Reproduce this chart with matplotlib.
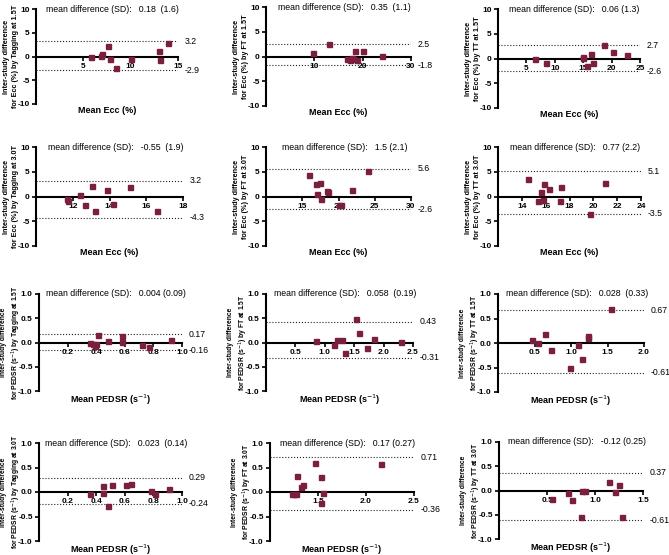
import matplotlib
matplotlib.use('Agg')
import matplotlib.pyplot as plt

plt.rcParams['font.family'] = ['Liberation Sans', 'DejaVu Sans']
plt.rcParams['axes.unicode_minus'] = False

MAROON = '#7a1f3d'

# Ecc (%) -- mean of the two studies vs inter-study difference
ecc_tag15_mean = [5.8, 6.9, 7.0, 7.6, 7.8, 8.5, 10.0, 13.0, 13.1, 13.9]
ecc_tag15_diff = [-0.1, 0.1, 0.6, 2.3, -0.5, -2.4, -0.5, 1.2, -0.8, 2.9]
ecc_ft15_mean = [9.7, 13.1, 16.7, 17.4, 17.8, 18.1, 18.5, 18.8, 20.1, 24.1]
ecc_ft15_diff = [0.7, 2.6, -0.5, -0.7, -0.4, -0.5, 1.1, -0.7, 1.2, 0.1]
ecc_tt15_mean = [6.6, 8.4, 14.9, 15.0, 15.6, 16.3, 16.8, 18.7, 20.2, 22.7]
ecc_tt15_diff = [-0.2, -1.0, 0.4, 0.1, -1.6, 0.9, -0.9, 2.8, 1.3, 0.7]
ecc_tag30_mean = [11.67, 11.76, 12.4, 12.67, 13.07, 13.2, 13.87, 14.2, 15.13, 16.6]
ecc_tag30_diff = [-0.5, -1.0, 0.3, -1.8, 2.1, -3.0, 1.3, -1.5, 2.0, -3.0]
ecc_ft30_mean = [15.9, 16.9, 17.0, 17.45, 17.6, 18.4, 18.5, 20.1, 20.4, 21.8, 24.1]
ecc_ft30_diff = [4.3, 2.5, 0.5, 2.7, -0.5, 1.1, 0.9, -1.7, -1.7, 1.3, 5.1]
ecc_tt30_mean = [14.54, 15.35, 15.63, 15.8, 15.85, 16.3, 17.2, 17.3, 19.7, 20.94]
ecc_tt30_diff = [3.6, -0.9, 0.9, -0.8, 2.5, 1.6, -0.9, 2.0, -3.5, 2.8]

# PEDSR (s^-1)
pedsr_tag15_mean = [0.36, 0.38, 0.39, 0.40, 0.41, 0.48, 0.58, 0.58, 0.72, 0.77, 0.92]
pedsr_tag15_diff = [0.0, -0.03, -0.08, -0.03, 0.15, 0.03, 0.13, 0.02, -0.05, -0.10, 0.05]
pedsr_ft15_mean = [0.85, 1.15, 1.20, 1.30, 1.34, 1.53, 1.59, 1.72, 1.83, 2.29]
pedsr_ft15_diff = [0.03, -0.05, 0.05, 0.05, -0.21, 0.49, 0.19, -0.12, 0.08, 0.01]
pedsr_tt15_mean = [0.46, 0.55, 0.65, 0.73, 0.99, 1.09, 1.15, 1.23, 1.23, 1.55]
pedsr_tt15_diff = [0.07, 0.0, 0.18, -0.14, -0.51, -0.04, -0.33, 0.14, 0.10, 0.70]
pedsr_tag30_mean = [0.36, 0.45, 0.45, 0.48, 0.51, 0.61, 0.64, 0.78, 0.81, 0.91]
pedsr_tag30_diff = [-0.05, 0.12, -0.03, -0.28, 0.14, 0.15, 0.16, 0.02, -0.05, 0.07]
pedsr_ft30_mean = [1.23, 1.25, 1.27, 1.28, 1.32, 1.34, 1.47, 1.53, 1.53, 1.55, 2.16]
pedsr_ft30_diff = [-0.05, -0.05, -0.05, 0.33, 0.10, 0.14, 0.59, 0.30, -0.22, -0.03, 0.57]
pedsr_tt30_mean = [0.55, 0.72, 0.76, 0.85, 0.86, 0.90, 1.15, 1.21, 1.25, 1.28]
pedsr_tt30_diff = [-0.18, -0.06, -0.20, -0.54, 0.0, -0.01, 0.18, -0.04, 0.12, -0.54]

# summary text and limits of agreement
mean_sd = ['0.18  (1.6)', '0.35  (1.1)', '0.06 (1.3)',
           '-0.55  (1.9)', '1.5 (2.1)', '0.77 (2.2)',
           '0.004 (0.09)', '0.058  (0.19)', '0.028  (0.33)',
           '0.023  (0.14)', '0.17 (0.27)', '-0.12 (0.25)']
loa = [(3.2, -2.9), (2.5, -1.8), (2.7, -2.6),
       (3.2, -4.3), (5.6, -2.6), (5.1, -3.5),
       (0.17, -0.16), (0.43, -0.31), (0.67, -0.61),
       (0.29, -0.24), (0.71, -0.36), (0.37, -0.61)]
methods = ['Tagging at 1.5T', 'FT at 1.5T', 'TT at 1.5T',
           'Tagging at 3.0T', 'FT at 3.0T', 'TT at 3.0T']

W, H = 669, 555
fig = plt.figure(figsize=(W / 100, H / 100), dpi=100)


def add_panel(rect, mean, diff, md, limits, xlim, xticks, ecc, method):
    l, t, r, b = rect
    ax = fig.add_axes([l / W, 1 - b / H, (r - l) / W, (b - t) / H])
    ax.plot(mean, diff, 's', color=MAROON, markersize=3.6, zorder=3, clip_on=False)
    for v in limits:
        ax.axhline(v, ls=':', lw=0.8, color='#222222')
        ax.annotate(str(v), xy=(1, v), xycoords=('axes fraction', 'data'),
                    xytext=(5, 0), textcoords='offset points',
                    va='center', ha='left', fontsize=6.3)

    ax.set_xlim(*xlim)
    ax.set_xticks(xticks)
    if ecc:
        ax.set_ylim(-10, 10)
        ax.set_yticks([-10, -5, 0, 5, 10])
        ax.set_xticklabels([str(x) for x in xticks])
        ax.set_yticklabels(['-10', '-5', '0', '5', '10'])
        ylab = 'Inter-study difference\nfor Ecc (%) by ' + method
        xlab = 'Mean Ecc (%)'
        ylab_off, ylab_size = -25, 5.2
    else:
        ax.set_ylim(-1, 1)
        ax.set_yticks([-1, -0.5, 0, 0.5, 1])
        ax.set_xticklabels(['%.1f' % x for x in xticks])
        ax.set_yticklabels(['-1.0', '-0.5', '0.0', '0.5', '1.0'])
        ylab = 'Inter-study difference\nfor PEDSR (s$^{-1}$) by ' + method
        xlab = 'Mean PEDSR (s$^{-1}$)'
        ylab_off, ylab_size = -27.5, 4.9

    for s in ['top', 'right']:
        ax.spines[s].set_visible(False)
    ax.spines['bottom'].set_position(('data', 0))
    ax.spines['bottom'].set_linewidth(1.5)
    ax.spines['left'].set_linewidth(1.5)
    ax.tick_params(direction='out', length=3, width=1.2, labelsize=6, pad=1.5)
    for lab in ax.get_xticklabels() + ax.get_yticklabels():
        lab.set_fontweight('bold')

    ax.text(0.54, 1.0, 'mean difference (SD):   ' + md, transform=ax.transAxes,
            ha='center', va='center', fontsize=6.3)
    ax.text(ylab_off / (r - l), 0.5, ylab, transform=ax.transAxes, rotation=90,
            ha='center', va='center', fontsize=ylab_size, fontweight='bold',
            multialignment='center', linespacing=1.35)
    ax.text(0.5, -2 / (b - t), xlab, transform=ax.transAxes,
            ha='center', va='top', fontsize=6.5, fontweight='bold')
    return ax


rects = [(36, 9, 178, 104), (266, 7, 411, 106), (498, 9, 640, 108),
         (36, 147, 183, 246), (266, 147, 411, 246), (498, 147, 641, 246),
         (39, 294, 182, 391), (266, 294, 413, 391), (498, 294, 644, 392),
         (39, 443, 182, 541), (270, 443, 414, 541), (499, 442, 643, 539)]

means = [ecc_tag15_mean, ecc_ft15_mean, ecc_tt15_mean,
         ecc_tag30_mean, ecc_ft30_mean, ecc_tt30_mean,
         pedsr_tag15_mean, pedsr_ft15_mean, pedsr_tt15_mean,
         pedsr_tag30_mean, pedsr_ft30_mean, pedsr_tt30_mean]
diffs = [ecc_tag15_diff, ecc_ft15_diff, ecc_tt15_diff,
         ecc_tag30_diff, ecc_ft30_diff, ecc_tt30_diff,
         pedsr_tag15_diff, pedsr_ft15_diff, pedsr_tt15_diff,
         pedsr_tag30_diff, pedsr_ft30_diff, pedsr_tt30_diff]
xlims = [(0, 15), (0, 30), (0, 25), (10, 18), (10, 30), (12, 24),
         (0, 1.0), (0, 2.5), (0, 2.0), (0, 1.0), (1.0, 2.5), (0, 1.5)]
xtick_list = [[5, 10, 15], [10, 20, 30], [5, 10, 15, 20, 25],
              [12, 14, 16, 18], [15, 20, 25, 30], [14, 16, 18, 20, 22, 24],
              [0.2, 0.4, 0.6, 0.8, 1.0], [0.5, 1.0, 1.5, 2.0, 2.5],
              [0.5, 1.0, 1.5, 2.0], [0.2, 0.4, 0.6, 0.8, 1.0],
              [1.5, 2.0, 2.5], [0.5, 1.0, 1.5]]

for i in range(12):
    add_panel(rects[i], means[i], diffs[i], mean_sd[i], loa[i],
              xlims[i], xtick_list[i], i < 6, methods[i % 6])

fig.savefig('out.png', dpi=100)
